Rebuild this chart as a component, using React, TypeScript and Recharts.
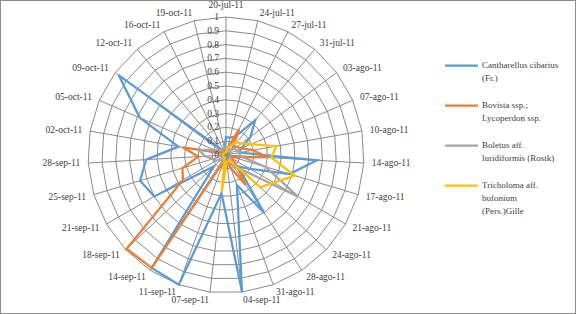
import React from 'react';
import { RadarChart, Radar, PolarGrid, PolarAngleAxis, PolarRadiusAxis, Legend } from 'recharts';

const dates = [
  '20-jul-11', '24-jul-11', '27-jul-11', '31-jul-11', '03-ago-11', '07-ago-11', '10-ago-11',
  '14-ago-11', '17-ago-11', '21-ago-11', '24-ago-11', '28-ago-11', '31-ago-11', '04-sep-11',
  '07-sep-11', '11-sep-11', '14-sep-11', '18-sep-11', '21-sep-11', '25-sep-11', '28-sep-11',
  '02-oct-11', '05-oct-11', '09-oct-11', '12-oct-11', '16-oct-11', '19-oct-11',
];

const cantharellus = [
  0.13, 0.13, 0.15, 0.33, 0.22, 0.12, 0.1, 0.66, 0.48, 0.2, 0.12, 0.5, 0.23, 1.0,
  0.28, 1.0, 0.98, 0.12, 0.6, 0.65, 0.58, 0.35, 0.68, 0.97, 0.05, 0.05, 0.05,
];
const bovista = [
  0.03, 0.05, 0.21, 0.08, 0.1, 0.12, 0.2, 0.3, 0.05, 0.05, 0.1, 0.26, 0.1, 0.05,
  0.05, 0.05, 0.98, 0.99, 0.36, 0.33, 0.2, 0.32, 0.05, 0.03, 0.03, 0.03, 0.03,
];
const boletus = [
  0.05, 0.05, 0.05, 0.05, 0.08, 0.08, 0.1, 0.1, 0.3, 0.6, 0.15, 0.1, 0.05, 0.05,
  0.05, 0.05, 0.05, 0.05, 0.08, 0.1, 0.15, 0.2, 0.1, 0.05, 0.05, 0.05, 0.05,
];
const tricholoma = [
  0.02, 0.05, 0.08, 0.12, 0.14, 0.2, 0.37, 0.33, 0.52, 0.4, 0.34, 0.05, 0.05, 0.05,
  0.27, 0.03, 0.02, 0.02, 0.02, 0.02, 0.02, 0.02, 0.02, 0.02, 0.02, 0.02, 0.02,
];

const radiusTicks = [0, 0.1, 0.2, 0.3, 0.4, 0.5, 0.6, 0.7, 0.8, 0.9, 1];

const seriesNames = [
  'Cantharellus cibarius (Fr.)',
  'Bovista ssp.; Lycoperdon ssp.',
  'Boletus aff. luridiformis (Rostk)',
  'Tricholoma aff. bufonium (Pers.)Gille',
];
const legendLines = [
  ['Cantharellus cibarius', '(Fr.)'],
  ['Bovista ssp.;', 'Lycoperdon ssp.'],
  ['Boletus aff.', 'luridiformis (Rostk)'],
  ['Tricholoma aff.', 'bufonium', '(Pers.)Gille'],
];
const colors = ['#5B9BD5', '#ED7D31', '#A5A5A5', '#FFC000'];

const data = dates.map((d, i) => ({
  date: d,
  s0: cantharellus[i],
  s1: bovista[i],
  s2: boletus[i],
  s3: tricholoma[i],
}));

const FONT = '"Liberation Serif", "Times New Roman", serif';
const TEXT = '#404040';

const AngleTick = (props: any) => {
  const { x, y, textAnchor, payload } = props;
  const dy = textAnchor === 'middle' && y < 155 ? -4 : 0;
  return (
    <text x={x} y={y + dy} textAnchor={textAnchor} dominantBaseline="central" fontSize={9.5} fontFamily={FONT} fill={TEXT}>
      {payload.value}
    </text>
  );
};

const RadiusTick = (props: any) => {
  const { x, y, payload } = props;
  return (
    <text x={x - 7} y={y} textAnchor="end" dominantBaseline="central" fontSize={9.5} fontFamily={FONT} fill={TEXT}>
      {String(payload.value)}
    </text>
  );
};

const renderLegend = () => {
  return (
    <div style={{ fontFamily: FONT, fontSize: 9, color: TEXT }}>
      {seriesNames.map((name, i) => (
        <div key={name} style={{ display: 'flex', alignItems: 'flex-start', marginBottom: 14 }}>
          <svg width={33} height={13} style={{ flex: 'none' }}>
            <line x1={0} y1={6.5} x2={33} y2={6.5} stroke={colors[i]} strokeWidth={2.25} />
          </svg>
          <div style={{ marginLeft: 4, lineHeight: '13px', whiteSpace: 'nowrap' }}>
            {legendLines[i].map((l, j) => (
              <div key={j}>{l}</div>
            ))}
          </div>
        </div>
      ))}
    </div>
  );
};

export default function App() {
  return (
    <div
      style={{
        position: 'absolute',
        left: 0,
        top: 0,
        width: 576,
        height: 314,
        background: '#fff',
        boxSizing: 'border-box',
        border: '1px solid #8c8c8c',
      }}
    >
      <div style={{ position: 'absolute', left: -1, top: -1 }}>
        <RadarChart
          width={576}
          height={314}
          data={data}
          cx={226}
          cy={155}
          outerRadius={138}
          margin={{ top: 0, right: 0, bottom: 0, left: 0 }}
        >
          <PolarGrid gridType="polygon" stroke="#8a8a8a" strokeWidth={1} />
          <PolarAngleAxis dataKey="date" tick={<AngleTick />} tickLine={false} axisLine={false} />
          <PolarRadiusAxis
            angle={90}
            domain={[0, 1]}
            ticks={radiusTicks}
            tick={<RadiusTick />}
            axisLine={false}
            tickLine={false}
          />
          {seriesNames.map((name, i) => (
            <Radar
              key={name}
              name={name}
              dataKey={`s${i}`}
              stroke={colors[i]}
              strokeWidth={2.25}
              fill="none"
              fillOpacity={0}
              dot={false}
              isAnimationActive={false}
            />
          ))}
          <Legend
            content={renderLegend}
            layout="vertical"
            align="left"
            verticalAlign="top"
            wrapperStyle={{ left: 445, top: 59, width: 131 }}
          />
        </RadarChart>
      </div>
    </div>
  );
}
